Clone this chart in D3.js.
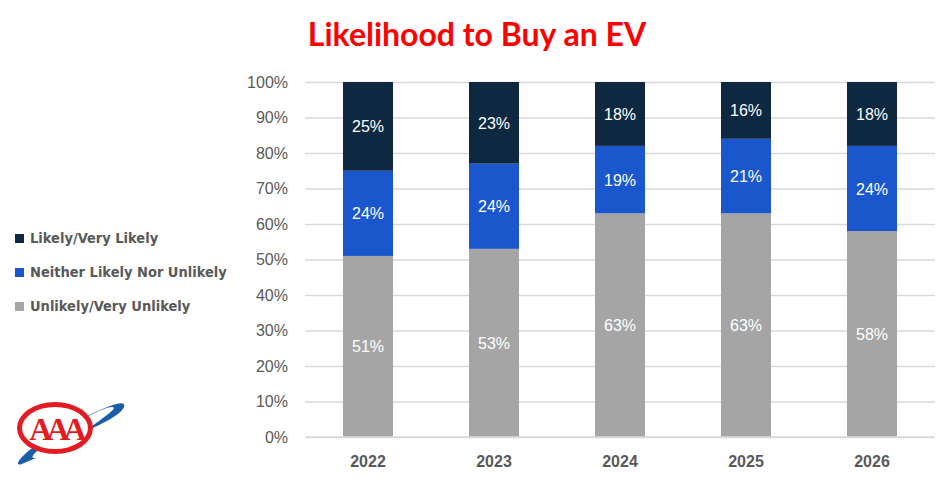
<!DOCTYPE html>
<html lang="en">
  <head>
    <meta charset="UTF-8" />
    <title>Likelihood to Buy an EV</title>
    <style>
      body { margin: 0; background: #fff; }
      svg { display: block; }
    </style>
  </head>
  <body>
    <div id="main"></div>
    <script src="https://cdn.jsdelivr.net/npm/d3@7"></script>
    <script>
      const years = ['2022', '2023', '2024', '2025', '2026']
      const unlikely = [51, 53, 63, 63, 58]
      const neither = [24, 24, 19, 21, 24]
      const likely = [25, 23, 18, 16, 18]
      const seriesNames = ['Unlikely/Very Unlikely', 'Neither Likely Nor Unlikely', 'Likely/Very Likely']
      const yTicks = [0, 10, 20, 30, 40, 50, 60, 70, 80, 90, 100]
      const colors = ['#a5a5a5', '#1a56cc', '#0e2841']

      const [width, height] = [952, 478]
      const svg = d3.select('#main').append('svg')
        .attr('width', width).attr('height', height)

      // title
      svg.append('text')
        .attr('x', 477).attr('y', 46)
        .attr('text-anchor', 'middle')
        .attr('fill', '#ff0000')
        .style('font', 'bold 32px Lato, "Liberation Sans", sans-serif')
        .text('Likelihood to Buy an EV')

      const x = d3.scaleBand().domain(years).range([305, 935]).paddingInner(0.6032).paddingOuter(0.3016)
      const y = d3.scaleLinear().domain([0, 100]).range([437, 82])

      // grid + y labels
      const yAxis = svg.append('g')
        .attr('transform', 'translate(305,0)')
        .call(d3.axisLeft(y).tickValues(yTicks).tickFormat(d => d + '%').tickSize(-630).tickPadding(17))
      yAxis.select('.domain').remove()
      yAxis.selectAll('line').attr('stroke', '#d9d9d9').attr('stroke-width', 1.5)
      yAxis.selectAll('text')
        .attr('fill', '#595959')
        .style('font', '16px "Liberation Sans", Arial, sans-serif')

      const stack = d3.stack().keys([0, 1, 2]).value((d, k) => d[k])
      const rows = years.map((yr, i) => Object.assign([unlikely[i], neither[i], likely[i]], { year: yr }))
      const layers = stack(rows)

      const g = svg.append('g')
      layers.forEach((layer, k) => {
        g.append('g').attr('fill', colors[k])
          .selectAll('rect').data(layer).join('rect')
          .attr('x', d => x(d.data.year))
          .attr('width', x.bandwidth())
          .attr('y', d => y(d[1]))
          .attr('height', d => y(d[0]) - y(d[1]))
        g.append('g')
          .selectAll('text').data(layer).join('text')
          .attr('x', d => x(d.data.year) + x.bandwidth() / 2)
          .attr('y', d => y((d[0] + d[1]) / 2) + 6)
          .attr('text-anchor', 'middle')
          .attr('fill', '#fff')
          .style('font', '16px "Liberation Sans", Arial, sans-serif')
          .text(d => (d[1] - d[0]) + '%')
      })

      // baseline redraw on top
      svg.append('line')
        .attr('x1', 305).attr('x2', 935).attr('y1', y(0)).attr('y2', y(0))
        .attr('stroke', '#d9d9d9').attr('stroke-width', 1.5)

      // x labels
      svg.append('g').selectAll('text').data(years).join('text')
        .attr('x', d => x(d) + x.bandwidth() / 2)
        .attr('y', 467)
        .attr('text-anchor', 'middle')
        .attr('fill', '#595959')
        .style('font', 'bold 16px "Liberation Sans", Arial, sans-serif')
        .text(d => d)

      // legend
      const legendItems = [2, 1, 0]
      const leg = svg.append('g').selectAll('g').data(legendItems).join('g')
        .attr('transform', (d, i) => `translate(15, ${243 + i * 34})`)
      leg.append('rect').attr('x', 0).attr('y', -9).attr('width', 9).attr('height', 9)
        .attr('fill', d => colors[d])
      leg.append('text').attr('x', 15).attr('y', 0)
        .attr('fill', '#595959')
        .style('font', 'bold 14.5px "DejaVu Sans Condensed", "Liberation Sans Narrow", sans-serif')
        .text(d => seriesNames[d])

      // AAA logo
      const logo = svg.append('g')
      logo.append('path')
        .attr('d', 'M24,463 C10,470 20,452 60,430 C95,411 128,396 124,407 C121,415 100,425 84,432 C100,420 120,407 112,407 C100,408 70,425 48,442 C35,452 28,459 36,458 Z')
        .attr('fill', '#1b5ea8')
      logo.append('ellipse').attr('cx', 55).attr('cy', 428).attr('rx', 38).attr('ry', 26).attr('fill', '#e31b23')
      logo.append('ellipse').attr('cx', 55).attr('cy', 428).attr('rx', 33).attr('ry', 21).attr('fill', '#fff')
      logo.append('text').attr('x', 55).attr('y', 440)
        .attr('text-anchor', 'middle')
        .attr('fill', '#e31b23')
        .style('font', 'bold 32px "Liberation Serif", serif')
        .attr('letter-spacing', -6)
        .text('AAA')
    </script>
  </body>
</html>
